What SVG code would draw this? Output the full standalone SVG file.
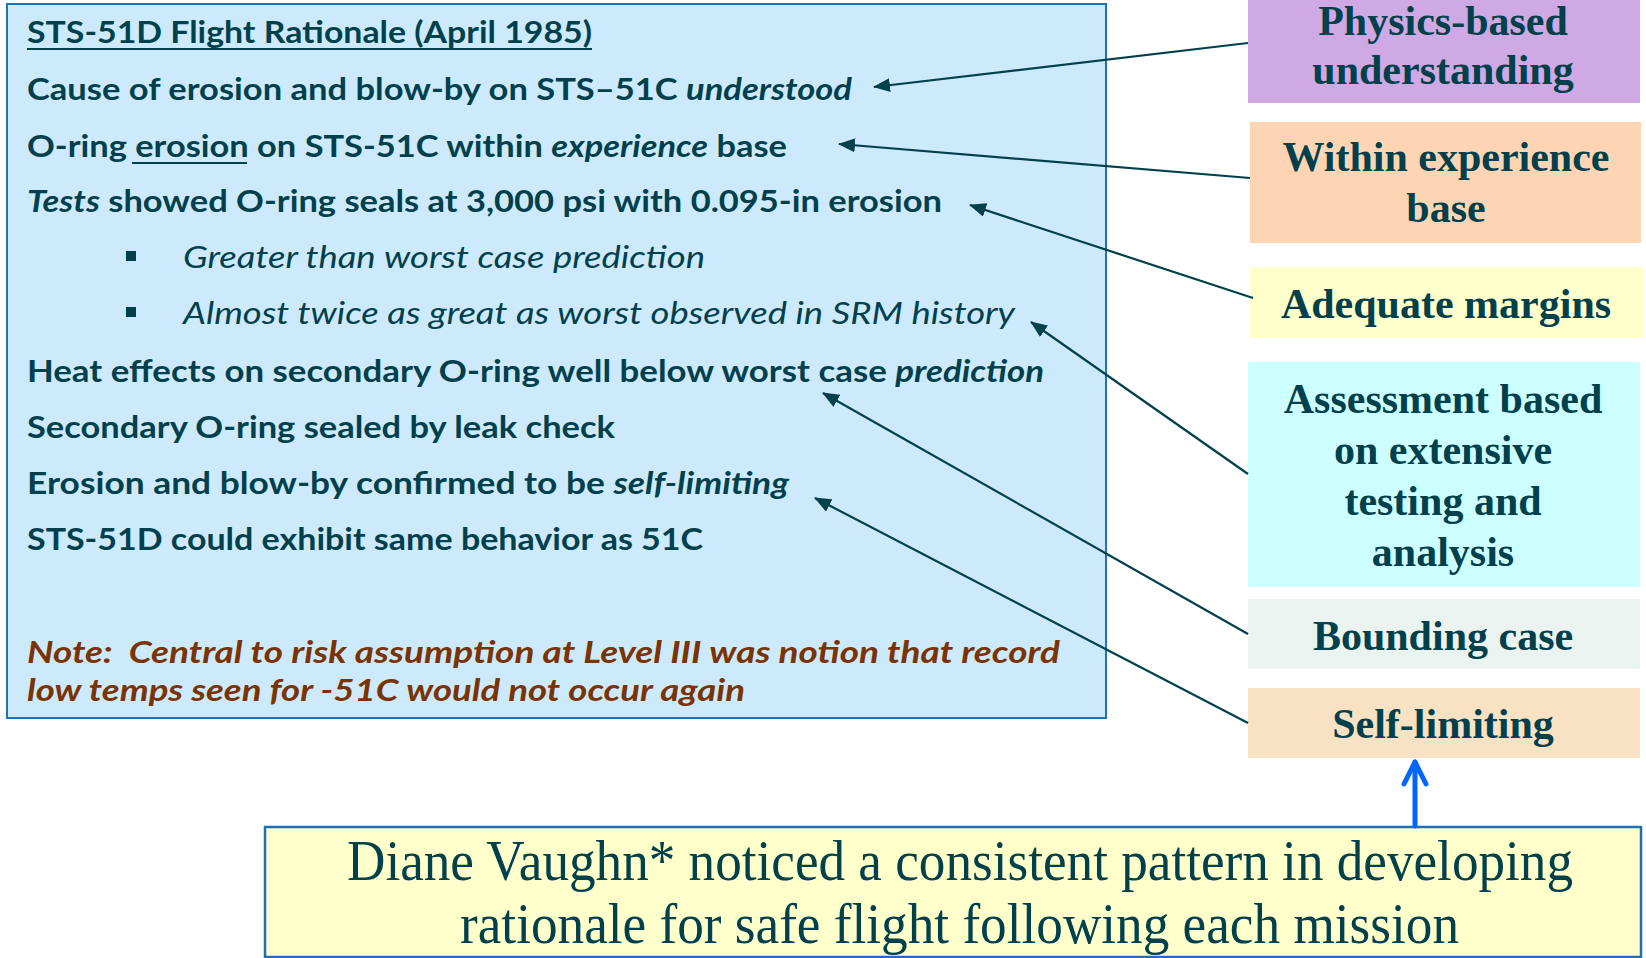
<svg xmlns="http://www.w3.org/2000/svg" width="1646" height="958" viewBox="0 0 1646 958">
<defs>
<style>
.lt{font-family:Lato,"Open Sans","Liberation Sans",sans-serif;font-size:31px;font-weight:bold;fill:#02404c}
.it{font-style:italic}
.nb{font-weight:normal}
.note{fill:#7a3303;font-style:italic;white-space:pre}
.ul{stroke:#02404c;stroke-width:2.2}
.rt{font-family:"Liberation Serif","Times New Roman",serif;font-size:42px;font-weight:bold;fill:#02404c;text-anchor:middle}
.bt{font-family:"Liberation Serif","Times New Roman",serif;font-size:56px;fill:#02404c}
.con{stroke:#02404c;stroke-width:2.2;fill:none;marker-end:url(#ah)}
</style>
<marker id="ah" markerUnits="userSpaceOnUse" markerWidth="18" markerHeight="14" refX="16" refY="7" orient="auto">
<path d="M0,0 L17,7 L0,14 Z" fill="#02404c"/>
</marker>
</defs>
<rect width="1646" height="958" fill="#ffffff"/>

<g id="rationale">
<rect x="7" y="4" width="1099" height="714" fill="#cdeafd" stroke="#2272b8" stroke-width="2"/>
<text class="lt" x="27" y="43" textLength="565" lengthAdjust="spacingAndGlyphs">STS-51D Flight Rationale (April 1985)</text>
<line class="ul" x1="27" y1="49" x2="592" y2="49"/>
<text class="lt" x="27" y="100" textLength="825" lengthAdjust="spacingAndGlyphs">Cause of erosion and blow-by on STS–51C <tspan class="it">understood</tspan></text>
<text class="lt" x="27" y="157" textLength="760" lengthAdjust="spacingAndGlyphs">O-ring erosion on STS-51C within <tspan class="it">experience</tspan> base</text>
<line class="ul" x1="132" y1="163" x2="247" y2="163"/>
<text class="lt" x="27" y="212" textLength="915" lengthAdjust="spacingAndGlyphs"><tspan class="it">Tests</tspan> showed O-ring seals at 3,000 psi with 0.095-in erosion</text>
<rect x="126" y="251" width="10" height="10" fill="#02404c"/>
<text class="lt nb it" x="183" y="268" textLength="522" lengthAdjust="spacingAndGlyphs">Greater than worst case prediction</text>
<rect x="126" y="307" width="10" height="10" fill="#02404c"/>
<text class="lt nb it" x="183" y="324" textLength="832" lengthAdjust="spacingAndGlyphs">Almost twice as great as worst observed in SRM history</text>
<text class="lt" x="27" y="382" textLength="1017" lengthAdjust="spacingAndGlyphs">Heat effects on secondary O-ring well below worst case <tspan class="it">prediction</tspan></text>
<text class="lt" x="27" y="438" textLength="588" lengthAdjust="spacingAndGlyphs">Secondary O-ring sealed by leak check</text>
<text class="lt" x="27" y="494" textLength="762" lengthAdjust="spacingAndGlyphs">Erosion and blow-by confirmed to be <tspan class="it">self-limiting</tspan></text>
<text class="lt" x="27" y="550" textLength="676" lengthAdjust="spacingAndGlyphs">STS-51D could exhibit same behavior as 51C</text>
<text class="lt note" x="27" y="663" textLength="1033" lengthAdjust="spacingAndGlyphs">Note:  Central to risk assumption at Level III was notion that record</text>
<text class="lt note" x="27" y="701" textLength="718" lengthAdjust="spacingAndGlyphs">low temps seen for -51C would not occur again</text>
</g>

<g id="physics">
<rect x="1248" y="0" width="392" height="103" fill="#cfa9e3"/>
<text class="rt" x="1443" y="35">Physics-based</text>
<text class="rt" x="1443" y="84">understanding</text>
</g>
<g id="experience">
<rect x="1250" y="122" width="391" height="121" fill="#fdd5b5"/>
<text class="rt" x="1446" y="171">Within experience</text>
<text class="rt" x="1446" y="222">base</text>
</g>
<g id="margins">
<rect x="1250" y="267" width="393" height="71" fill="#ffffcc"/>
<text class="rt" x="1446" y="318">Adequate margins</text>
</g>
<g id="assessment">
<rect x="1248" y="362" width="392" height="225" fill="#ccffff"/>
<text class="rt" x="1443" y="413">Assessment based</text>
<text class="rt" x="1443" y="464">on extensive</text>
<text class="rt" x="1443" y="515">testing and</text>
<text class="rt" x="1443" y="566">analysis</text>
</g>
<g id="bounding">
<rect x="1248" y="599" width="392" height="70" fill="#eaf3f0"/>
<text class="rt" x="1443" y="650">Bounding case</text>
</g>
<g id="selflimiting">
<rect x="1248" y="688" width="392" height="70" fill="#f9e2c4"/>
<text class="rt" x="1443" y="738">Self-limiting</text>
</g>

<g id="vaughn">
<rect x="265" y="827" width="1376" height="130" fill="#ffffcc" stroke="#1e6fb5" stroke-width="2.5"/>
<text class="bt" x="347" y="880" textLength="1226" lengthAdjust="spacingAndGlyphs">Diane Vaughn* noticed a consistent pattern in developing</text>
<text class="bt" x="460" y="943" textLength="999" lengthAdjust="spacingAndGlyphs">rationale for safe flight following each mission</text>
</g>

<g id="connectors">
<line class="con" x1="1248" y1="43" x2="874" y2="87"/>
<line class="con" x1="1250" y1="178" x2="839" y2="144"/>
<line class="con" x1="1253" y1="298" x2="970" y2="205"/>
<line class="con" x1="1248" y1="474" x2="1031" y2="322"/>
<line class="con" x1="1248" y1="634" x2="823" y2="393"/>
<line class="con" x1="1248" y1="723" x2="815" y2="498"/>
<g stroke="#0066ff" stroke-width="5" fill="none" stroke-linecap="round" stroke-linejoin="round">
<line x1="1415" y1="826" x2="1415" y2="762"/>
<polyline points="1404,784 1415,762 1426,784"/>
</g>
</g>
</svg>
